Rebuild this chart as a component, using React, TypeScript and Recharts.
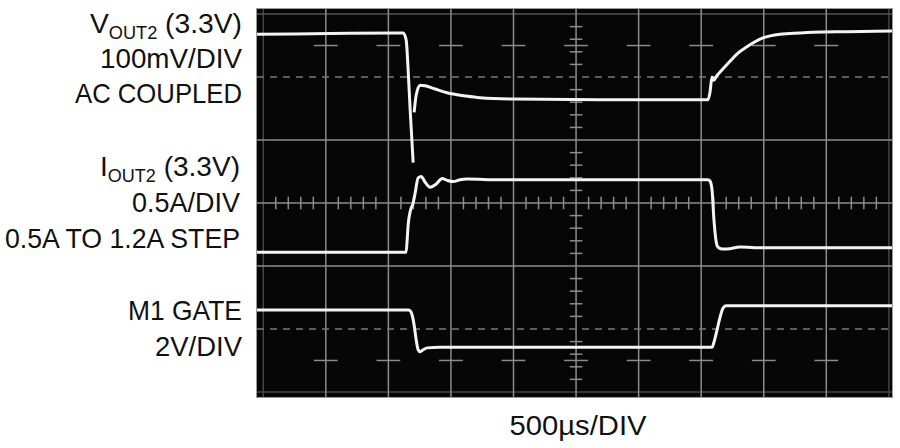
import { Line, LineChart, ReferenceLine, XAxis, YAxis } from "recharts";

// time in divisions (500µs/DIV), screen value in divisions from the bottom graticule line
const VOUT_T = [-0.1, 1.07, 2.236, 2.284, 2.316, 2.348, 2.396, 2.404, 2.412, 2.444, 2.508, 2.588, 2.748, 2.939, 3.227, 3.466, 3.994, 5.383, 7.109, 7.141, 7.173, 7.204, 7.236, 7.332, 7.46, 7.588, 7.732, 7.859, 7.987, 8.259, 8.578, 8.786, 9.329, 10.05];
const VOUT_V = [5.68, 5.69, 5.7, 5.59, 5.11, 4.48, 3.64, null, 4.44, 4.71, 4.87, 4.86, 4.81, 4.75, 4.7, 4.67, 4.65, 4.64, 4.64, 4.76, 5.0, 4.95, 5.0, 5.11, 5.25, 5.38, 5.48, 5.56, 5.62, 5.68, 5.7, 5.71, 5.72, 5.73];

const IOUT_T = [-0.1, 2.284, 2.3, 2.316, 2.348, 2.396, 2.428, 2.476, 2.524, 2.588, 2.668, 2.764, 2.859, 2.939, 3.035, 3.147, 3.259, 3.786, 7.109, 7.141, 7.173, 7.204, 7.236, 7.268, 7.332, 7.412, 7.62, 7.987, 10.05];
const IOUT_V = [2.22, 2.22, 2.41, 2.65, 2.86, 3.0, 3.16, 3.4, 3.42, 3.33, 3.25, 3.3, 3.39, 3.36, 3.34, 3.37, 3.38, 3.37, 3.37, 3.35, 3.21, 2.73, 2.41, 2.3, 2.27, 2.27, 2.3, 2.29, 2.29];

const GATE_T = [-0.1, 2.316, 2.348, 2.38, 2.412, 2.444, 2.476, 2.508, 2.556, 2.62, 2.827, 7.173, 7.204, 7.252, 7.3, 7.348, 7.396, 7.62, 10.05];
const GATE_V = [1.3, 1.3, 1.29, 1.22, 1.06, 0.83, 0.67, 0.64, 0.67, 0.7, 0.71, 0.71, 0.79, 0.98, 1.18, 1.33, 1.37, 1.37, 1.37];

const DIVS_X = [1, 2, 3, 4, 5, 6, 7, 8, 9];
const SOLID_Y = [2, 3, 4];
const DASHED_Y = [1, 5];
const MARK_ROWS = [0.5, 5.5];
const MINOR = Array.from({ length: 49 }, (_, i) => (i + 1) * 0.2).filter((m) => Math.abs(m - Math.round(m)) > 0.01);
const MINOR_Y = Array.from({ length: 29 }, (_, i) => (i + 1) * 0.2).filter((m) => Math.abs(m - Math.round(m)) > 0.01);

const zip = (t: number[], v: (number | null)[]) => t.map((x, i) => ({ t: x, v: v[i] }));

const GRID = "#8c8c8c";
const TRACE = "#f4f4f4";

export default function App() {
  return (
    <div style={{ position: "absolute", left: 0, top: 0, width: 900, height: 448, background: "#fff" }}>
      <div
        style={{
          position: "absolute",
          left: 257,
          top: 9,
          width: 635,
          height: 388,
          background: "#060606",
          boxShadow: "0 0 0 1px #9a9a9a",
        }}
      />
      <div style={{ position: "absolute", left: 0, top: 0 }}>
        <LineChart width={900} height={448} margin={{ left: 257, right: 8, top: 9, bottom: 51 }}>
          <XAxis type="number" dataKey="t" domain={[-0.1, 10.05]} hide allowDataOverflow />
          <YAxis type="number" domain={[-0.08, 6.08]} hide allowDataOverflow />
          <ReferenceLine x={0} stroke="#444" strokeWidth={1.5} />
          <ReferenceLine x={10} stroke="#444" strokeWidth={1.5} />
          <ReferenceLine y={0} stroke="#444" strokeWidth={1.5} />
          <ReferenceLine y={6} stroke="#555" strokeWidth={1.5} />
          {DIVS_X.map((x) => (
            <ReferenceLine key={`vx${x}`} x={x} stroke={GRID} strokeWidth={1.5} />
          ))}
          {SOLID_Y.map((y) => (
            <ReferenceLine key={`hy${y}`} y={y} stroke={GRID} strokeWidth={1.5} />
          ))}
          {DASHED_Y.map((y) => (
            <ReferenceLine key={`dy${y}`} y={y} stroke="#7a7a7a" strokeWidth={1.5} strokeDasharray="7 6" />
          ))}
          {MARK_ROWS.flatMap((y) =>
            DIVS_X.map((x) => (
              <ReferenceLine
                key={`m${y}-${x}`}
                segment={[{ x: x - 0.19, y }, { x: x + 0.19, y }]}
                stroke={GRID}
                strokeWidth={1.5}
              />
            ))
          )}
          {MINOR.map((x) => (
            <ReferenceLine
              key={`tx${x}`}
              segment={[{ x, y: 2.9 }, { x, y: 3.1 }]}
              stroke={GRID}
              strokeWidth={1.5}
            />
          ))}
          {MINOR_Y.map((y) => (
            <ReferenceLine
              key={`ty${y}`}
              segment={[{ x: 4.9, y }, { x: 5.1, y }]}
              stroke={GRID}
              strokeWidth={1.5}
            />
          ))}
          <Line data={zip(VOUT_T, VOUT_V)} dataKey="v" type="monotone" stroke={TRACE} strokeWidth={3} dot={false} isAnimationActive={false} />
          <Line data={zip(IOUT_T, IOUT_V)} dataKey="v" type="monotone" stroke={TRACE} strokeWidth={3} dot={false} isAnimationActive={false} />
          <Line data={zip(GATE_T, GATE_V)} dataKey="v" type="monotone" stroke={TRACE} strokeWidth={3} dot={false} isAnimationActive={false} />
        </LineChart>
      </div>
      <svg
        width={900}
        height={448}
        style={{ position: "absolute", left: 0, top: 0, pointerEvents: "none" }}
        fontFamily="'Liberation Sans', Arial, sans-serif"
        fill="#111"
        fontSize={28}
      >
        <text x={242} y={33} textAnchor="end" textLength={152} lengthAdjust="spacingAndGlyphs">
          V<tspan fontSize={18} dy={6}>OUT2</tspan>
          <tspan dy={-6}> (3.3V)</tspan>
        </text>
        <text x={242} y={68} textAnchor="end" textLength={142} lengthAdjust="spacingAndGlyphs">100mV/DIV</text>
        <text x={242} y={103} textAnchor="end" textLength={167} lengthAdjust="spacingAndGlyphs">AC COUPLED</text>
        <text x={240} y={176} textAnchor="end" textLength={140} lengthAdjust="spacingAndGlyphs">
          I<tspan fontSize={18} dy={6}>OUT2</tspan>
          <tspan dy={-6}> (3.3V)</tspan>
        </text>
        <text x={240} y={212} textAnchor="end" textLength={108} lengthAdjust="spacingAndGlyphs">0.5A/DIV</text>
        <text x={240} y={248} textAnchor="end" textLength={235} lengthAdjust="spacingAndGlyphs">0.5A TO 1.2A STEP</text>
        <text x={242} y={320} textAnchor="end" textLength={114} lengthAdjust="spacingAndGlyphs">M1 GATE</text>
        <text x={242} y={356} textAnchor="end" textLength={87} lengthAdjust="spacingAndGlyphs">2V/DIV</text>
        <text x={578} y={435} textAnchor="middle" textLength={137} lengthAdjust="spacingAndGlyphs">500µs/DIV</text>
      </svg>
    </div>
  );
}
